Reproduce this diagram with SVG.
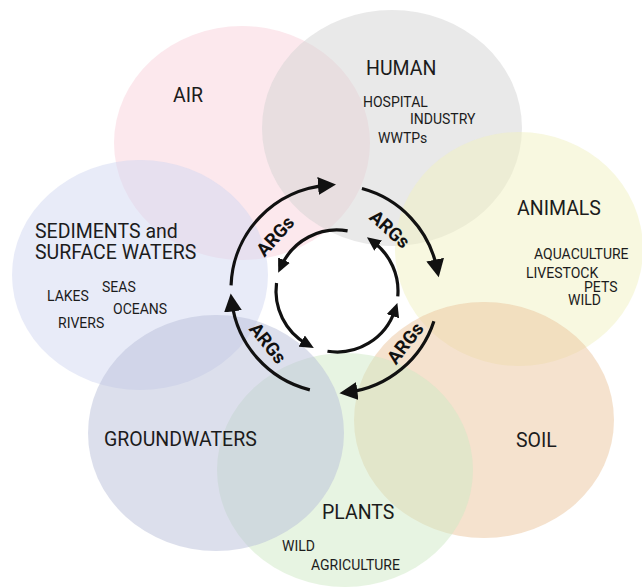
<svg xmlns="http://www.w3.org/2000/svg" width="642" height="588" viewBox="0 0 642 588">
<style>
.c{fill-opacity:0.5;stroke:none}
.main{font-family:Roboto,"Liberation Sans",sans-serif;font-size:19.5px;fill:#1c1c1c}
.sub{font-family:Roboto,"Liberation Sans",sans-serif;font-size:14px;fill:#1c1c1c}
.arg{font-family:Roboto,"Liberation Sans",sans-serif;font-size:18.5px;font-weight:bold;fill:#111;text-anchor:middle}
.ring{fill:none;stroke:#111;stroke-width:3.2}
.outer{marker-end:url(#ah)}
.inner{marker-end:url(#ahs)}
</style>
<defs>
<marker id="ah" markerUnits="userSpaceOnUse" markerWidth="19" markerHeight="18" refX="9" refY="9" orient="auto">
<path d="M0,0 L18,9 L0,18 z" fill="#111"/>
</marker>
<marker id="ahs" markerUnits="userSpaceOnUse" markerWidth="14" markerHeight="13" refX="6" refY="6.5" orient="auto">
<path d="M0,0 L14,6.5 L0,13 z" fill="#111"/>
</marker>
</defs>
<rect width="642" height="588" fill="#ffffff"/>
<g id="air"><ellipse class="c" cx="242" cy="143" rx="128" ry="117" fill="#f9d1db"/><text class="main" x="173" y="102">AIR</text></g>
<g id="human"><ellipse class="c" cx="392" cy="128" rx="130" ry="118" fill="#d3d3d3"/><text class="main" x="366" y="75">HUMAN</text><text class="sub" x="363" y="107">HOSPITAL</text><text class="sub" x="410" y="124">INDUSTRY</text><text class="sub" x="378" y="143">WWTPs</text></g>
<g id="animals"><ellipse class="c" cx="519" cy="249" rx="124" ry="117" fill="#f1f1c1"/><text class="main" x="517" y="215">ANIMALS</text><text class="sub" x="534" y="259">AQUACULTURE</text><text class="sub" x="526" y="278">LIVESTOCK</text><text class="sub" x="584" y="292">PETS</text><text class="sub" x="568" y="305">WILD</text></g>
<g id="soil"><ellipse class="c" cx="484" cy="420" rx="130" ry="118" fill="#ebc59d"/><text class="main" x="516" y="447">SOIL</text></g>
<g id="plants"><ellipse class="c" cx="345" cy="470" rx="128" ry="117" fill="#cfe9c5"/><text class="main" x="322" y="519">PLANTS</text><text class="sub" x="282" y="551">WILD</text><text class="sub" x="311" y="570">AGRICULTURE</text></g>
<g id="sediments"><ellipse class="c" cx="140" cy="275" rx="128" ry="115" fill="#d1d7f1"/><text class="main" x="35" y="238">SEDIMENTS and</text><text class="main" x="35" y="259">SURFACE WATERS</text><text class="sub" x="47" y="301">LAKES</text><text class="sub" x="102" y="292">SEAS</text><text class="sub" x="113" y="314">OCEANS</text><text class="sub" x="58" y="328">RIVERS</text></g>
<g id="groundwaters"><ellipse class="c" cx="216" cy="433" rx="128" ry="118" fill="#b9bfd9"/><text class="main" x="104" y="446">GROUNDWATERS</text></g>
<g id="connectors">
<path class="ring outer" d="M231.06,285.37 A104,104 0 0 1 327.02,185.31"/>
<path class="ring outer" d="M361.92,188.54 A104,104 0 0 1 436.95,268.44"/>
<path class="ring outer" d="M433.91,321.14 A104,104 0 0 1 348.40,392.14"/>
<path class="ring outer" d="M309.84,389.91 A104,104 0 0 1 231.86,302.40"/>
<path class="ring inner" d="M347.59,230.93 A61,61 0 0 0 281.53,265.60"/>
<path class="ring inner" d="M276.52,283.04 A61,61 0 0 0 306.87,344.04"/>
<path class="ring inner" d="M327.46,351.25 A61,61 0 0 0 394.82,310.46"/>
<path class="ring inner" d="M397.77,296.32 A61,61 0 0 0 373.37,242.03"/>
<text class="arg" transform="translate(275,236) rotate(-48)" dy="0.36em">ARGs</text>
<text class="arg" transform="translate(390,229) rotate(42)" dy="0.36em">ARGs</text>
<text class="arg" transform="translate(268,343) rotate(51)" dy="0.36em">ARGs</text>
<text class="arg" transform="translate(405,343) rotate(-52)" dy="0.36em">ARGs</text>
</g>
</svg>
